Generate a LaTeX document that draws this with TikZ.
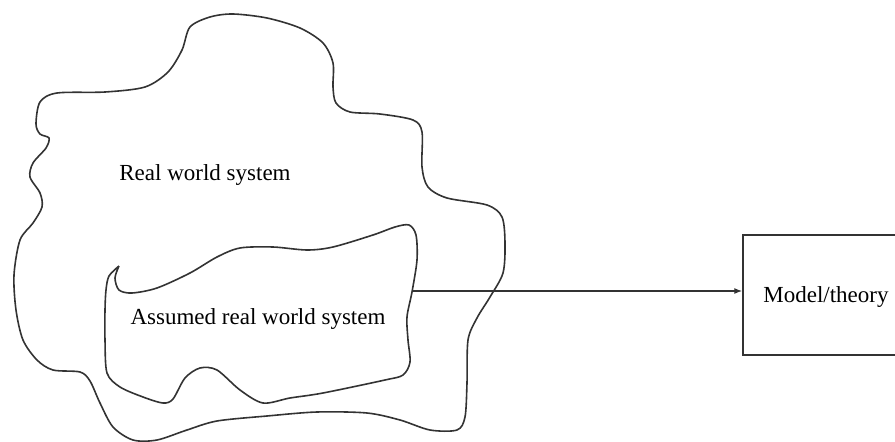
\documentclass[tikz,border=0pt]{standalone}
\usepackage{fontspec}
\setmainfont{Liberation Serif}
\usetikzlibrary{arrows.meta,positioning}

\begin{document}
\begin{tikzpicture}[
        x=1pt, y=-1pt,
        blob/.style={draw=black!80, line width=1.6pt},
        label/.style={font=\fontsize{23}{26}\selectfont, anchor=base},
        modelbox/.style={draw=black!80, line width=1.4pt, minimum width=166pt,
          minimum height=120pt, text depth=0pt, font=\fontsize{23}{26}\selectfont},
        link/.style={draw=black!80, line width=1.3pt, -{Latex[length=8pt,width=6pt]}}
      ]
      \useasboundingbox (0,0) rectangle (895,442);
      \clip (0,0) rectangle (895,442);
      % outer boundary
      \draw[blob] plot[smooth cycle, tension=0.5] coordinates {
        (190,27) (210,17) (233,14) (267,18) (300,28) (323,43) (333,63) (333,87)
        (336,103) (350,112) (380,114) (413,120) (422,132) (422,167) (428,187)
        (447,198) (487,205) (502,217) (505,243) (503,273) (490,297) (477,318)
        (468,340) (467,383) (465,417) (457,430) (430,430) (400,420) (367,413)
        (317,412) (267,416) (217,421) (187,430) (157,440) (133,440) (113,427)
        (100,403) (90,381) (80,372) (53,370) (37,360) (23,340) (16,310)
        (14,275) (20,240) (33,223) (42,207) (40,193) (30,177) (33,163)
        (46,148) (49,138) (40,134) (36,124) (40,102) (57,93) (105,92)
        (145,87) (168,72) (182,50)};
      % inner boundary
      \draw[blob] plot[smooth, tension=0.5] coordinates {
        (119,266) (115,278) (119,290) (132,293) (157,288) (190,273) (217,257)
        (240,248) (273,247) (307,250) (333,247) (373,235) (395,227) (409,225)
        (416,235) (417,260) (412,292) (407,317) (408,340) (410,362) (403,375)
        (385,380) (323,393) (290,398) (263,403) (240,390) (217,370) (200,368)
        (185,378) (173,399) (163,403) (143,397) (120,387) (107,373) (105,340)
        (105,310) (106,290) (109,276) (119,266)};
      \coordinate (assumed-exit) at (412,291);
      \node[label] (real) at (205,180) {Real world system};
      \node[label] (assumed) at (258,324) {Assumed real world system};
      \node[modelbox] (model) at (826,295) {Model/theory};
      \draw[link] (assumed-exit) -- (assumed-exit -| model.west);
    \end{tikzpicture}
\end{document}
